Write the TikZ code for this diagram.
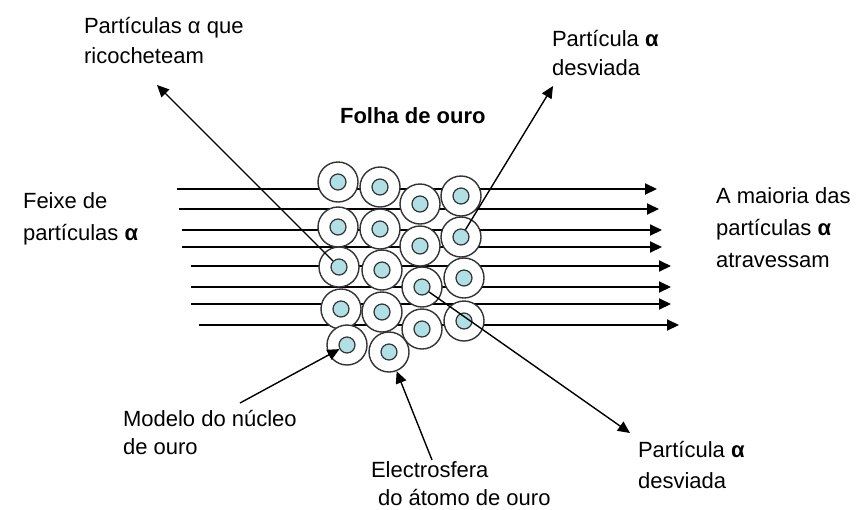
\documentclass[tikz,border=0pt]{standalone}
\usepackage{fontspec}
\setmainfont{Liberation Sans}
\usetikzlibrary{arrows.meta}
\tikzset{>={Triangle[length=6pt,width=5.5pt]}}
\definecolor{nucleo}{RGB}{176,224,230}

\begin{document}
\begin{tikzpicture}[x=.5pt,y=-.5pt,
  beam/.style={line width=1pt,->},
  ray/.style={line width=.7pt,->},
  atom/.style={circle,draw=black!80,line width=.7pt,fill=white,minimum size=20pt,inner sep=0pt},
  nucleus/.style={circle,draw=black!80,line width=.6pt,fill=nucleo,minimum size=8pt,inner sep=0pt},
  txt/.style={anchor=base west,align=left,font=\fontsize{11}{#1}\selectfont},
  txt/.default=15]
\useasboundingbox (0,0) rectangle (856,509);

\foreach \y/\xa/\xb [count=\i] in {189/177/657,209/179/659,230/182/662,247/182/662,266/191/671,287/191/671,304/191/671,325/199/679}
{
  \coordinate (S\i) at (\xa,\y);
  \coordinate (E\i) at (\xb,\y);
  \draw[beam] (S\i) -- (E\i);
}

\foreach \x/\y/\n in {338/182/A1,338/227/A2,339/267/A3,341/309/A4,347/345/A5,
  380/187/B1,380/229/B2,382/270/B3,382/312/B4,389/352/B5,
  420/204/C1,420/246/C2,422/287/C3,422/329/C4,
  461/196/D1,461/237/D2,464/278/D3,464/321/D4}
{
  \node[atom] (\n) at (\x,\y) {};
  \node[nucleus] (n\n) at (\n) {};
}

\coordinate (R1) at (157,85);
\coordinate (R2) at (553,86);
\coordinate (R3) at (630,433);
\coordinate (M1) at (240,403);
\coordinate (M2) at (432,460);

\draw[ray] (nA3) -- (R1);
\draw[ray] (nD2) -- (R2);
\draw[ray] (nC3) -- (R3);
\draw[ray] (M1) -- (nA5);
\draw[ray] (M2) -- (B5);

\node[txt] (ricochete) at (77,63) {Partículas α que\\ricocheteam};
\node[txt,font=\fontsize{11}{15}\selectfont\bfseries] (folha) at (333,123) {Folha de ouro};
\node[txt=14.5] (desvio1) at (545,75) {Partícula \textbf{α}\\desviada};
\node[txt=16] (feixe) at (16,240) {Feixe de\\partículas \textbf{α}};
\node[txt=16] (maioria) at (709,267) {A maioria das\\partículas \textbf{α}\\atravessam};
\node[txt=14] (modelo) at (116,454) {Modelo do núcleo\\de ouro};
\node[txt=14] (electro) at (364,505) {Electrosfera\\\hspace{3.5pt}do átomo de ouro};
\node[txt=15.5] (desvio2) at (631,488) {Partícula \textbf{α}\\desviada};
\end{tikzpicture}
\end{document}
